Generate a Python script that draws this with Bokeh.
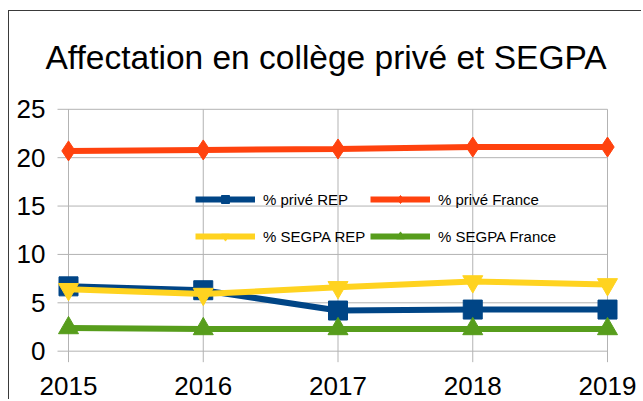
from bokeh.plotting import figure
from bokeh.models import ColumnDataSource, Range1d, Legend, LegendItem, FixedTicker
from bokeh.embed import file_html
from bokeh.resources import INLINE

# ---- data ----
years = [2015, 2016, 2017, 2018, 2019]
year_labels = ["2015", "2016", "2017", "2018", "2019"]
prive_rep = [6.7, 6.3, 4.2, 4.3, 4.3]
prive_france = [20.7, 20.8, 20.9, 21.1, 21.1]
segpa_rep = [6.4, 5.9, 6.6, 7.2, 6.9]
segpa_france = [2.4, 2.3, 2.3, 2.3, 2.3]
y_ticks = [0, 5, 10, 15, 20, 25]

title_text = "Affectation en collège privé et SEGPA"
FONT = "Liberation Sans"
GRID = "#b3b3b3"

p = figure(width=633, height=389, output_backend="svg", toolbar_location=None,
           x_range=Range1d(years[0] - 16 / 134.75, years[-1] + 16 / 134.75),
           y_range=Range1d(-1.17, 25.6),
           min_border_left=43, min_border_right=19,
           min_border_top=92, min_border_bottom=38)
p.styles = {"margin-left": "8px", "margin-top": "10px",
            "border-left": "1px solid #3a3a3a", "border-top": "1px solid #3a3a3a"}
p.outline_line_color = None
p.xgrid.visible = False
p.ygrid.visible = False
p.background_fill_color = "white"
p.border_fill_color = "white"

# title
p.title.text = title_text
p.title.text_font = FONT
p.title.text_font_size = "33.5px"
p.title.text_font_style = "normal"
p.title.text_color = "black"
p.title.align = "left"
p.title.vertical_align = "top"
p.title.offset = -7
p.title.standoff = 52

# axes
for ax, ticks, sd in ((p.yaxis[0], y_ticks, 1), (p.xaxis[0], years, 8)):
    ax.ticker = FixedTicker(ticks=ticks)
    ax.axis_line_color = None
    ax.major_tick_line_color = None
    ax.minor_tick_line_color = None
    ax.major_label_text_font = FONT
    ax.major_label_text_font_size = "26px"
    ax.major_label_text_color = "black"
    ax.major_label_standoff = sd
p.xaxis[0].major_label_overrides = {y: lab for y, lab in zip(years, year_labels)}

# grid lines (from the tick lists), with small outward tick stubs
tick_ext_x = 11 / 134.75
tick_ext_y = 1.15
hsrc = ColumnDataSource(dict(x0=[years[0] - tick_ext_x] * len(y_ticks),
                             x1=[years[-1]] * len(y_ticks), y=y_ticks))
p.segment(x0="x0", x1="x1", y0="y", y1="y", source=hsrc, line_color=GRID, line_width=1)
vsrc = ColumnDataSource(dict(x=years, y0=[y_ticks[0] - tick_ext_y] * len(years),
                             y1=[y_ticks[-1]] * len(years)))
p.segment(x0="x", x1="x", y0="y0", y1="y1", source=vsrc, line_color=GRID, line_width=1)

series = [
    ("% privé REP", prive_rep, "#004586", "square", 19),
    ("% privé France", prive_france, "#ff420e", "diamond", 20),
    ("% SEGPA REP", segpa_rep, "#ffd320", "inverted_triangle", 20),
    ("% SEGPA France", segpa_france, "#579d1c", "triangle", 20),
]
items = []
for name, vals, col, mk, sz in series:
    src = ColumnDataSource(dict(x=years, y=vals))
    ln = p.line("x", "y", source=src, line_color=col, line_width=6)
    sc = p.scatter("x", "y", source=src, marker=mk, size=sz, fill_color=col, line_color=col)
    items.append(LegendItem(label=name, renderers=[ln, sc]))

def make_legend(its, loc):
    return Legend(items=its, location=loc, orientation="horizontal",
                  glyph_width=60, glyph_height=20, label_standoff=8, label_width=107,
                  spacing=0, padding=0, margin=0,
                  label_text_font=FONT, label_text_font_size="15px",
                  label_text_color="black",
                  background_fill_alpha=0, border_line_color=None)

p.add_layout(make_legend(items[:2], (143, 153)), "center")
p.add_layout(make_legend(items[2:], (143, 116)), "center")

open("out.html", "w").write(file_html(p, INLINE))
